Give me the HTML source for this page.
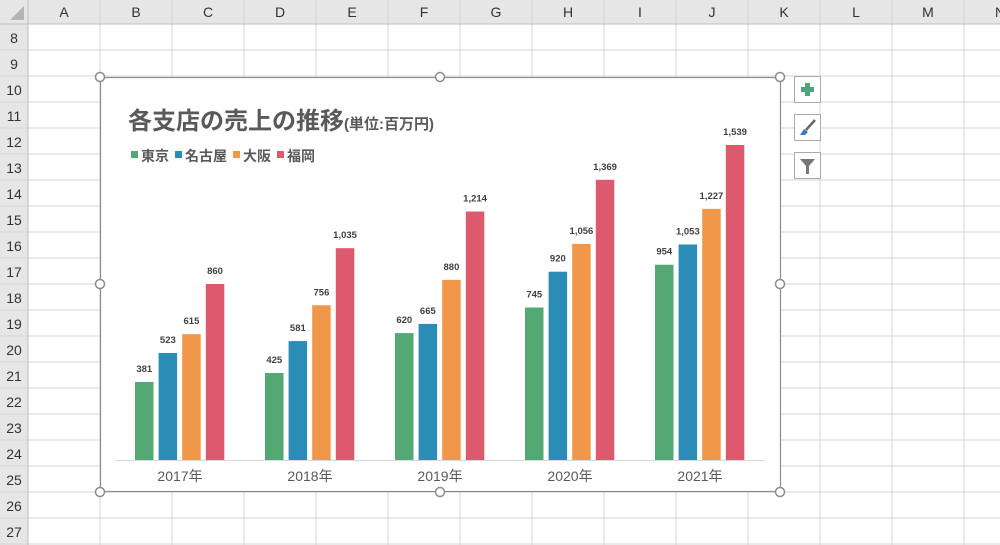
<!DOCTYPE html>
<html><head><meta charset="utf-8">
<style>
body{margin:0;width:1000px;height:545px;overflow:hidden;background:#fff;font-family:"Liberation Sans","Noto Sans CJK JP",sans-serif;}
svg{display:block}
</style></head><body>
<svg id="s" width="1000" height="545" xmlns="http://www.w3.org/2000/svg">
<g id="grid"></g>
<g id="chart"></g>
</svg>
<script>
const categories=["2017年","2018年","2019年","2020年","2021年"];
const seriesNames=["東京","名古屋","大阪","福岡"];
const tokyo=[381,425,620,745,954];
const nagoya=[523,581,665,920,1053];
const osaka=[615,756,880,1056,1227];
const fukuoka=[860,1035,1214,1369,1539];
const colors=["#53a873","#2b8db6","#f0974a","#dd5a6e"];
const series=[tokyo,nagoya,osaka,fukuoka];
const NS="http://www.w3.org/2000/svg";
function mk(tag,attrs,parent){const e=document.createElementNS(NS,tag);for(const k in attrs)e.setAttribute(k,attrs[k]);parent.appendChild(e);return e;}
const grid=document.getElementById('grid');
// headers
let r=mk('rect',{x:0,y:0,width:1000,height:24,fill:'#e6e6e6'},grid);


r=mk('rect',{x:0,y:0,width:28,height:545,fill:'#e6e6e6'},grid);


mk('polygon',{points:'24,6 24,20 10,20',fill:'#b4b4b4'},grid);
const cols="ABCDEFGHIJKLMN";
for(let i=0;i<14;i++){
 const x0=28+i*72;
 mk('line',{x1:x0+72,y1:0,x2:x0+72,y2:545,stroke:'#d4d4d4','stroke-width':1},grid);
 const t=mk('text',{x:x0+36,y:17,'text-anchor':'middle','font-size':14,fill:'#333'},grid);
 t.textContent=cols[i];
 
 
}
for(let i=0;i<20;i++){
 const y0=24+i*26;
 mk('line',{x1:0,y1:y0+26,x2:1000,y2:y0+26,stroke:'#d4d4d4','stroke-width':1},grid);
 const t=mk('text',{x:14,y:y0+19,'text-anchor':'middle','font-size':14,fill:'#333'},grid);
 t.textContent=8+i;
 
 
}
mk('line',{x1:0,y1:24,x2:1000,y2:24,stroke:'#bdbdbd'},grid);
mk('line',{x1:28,y1:0,x2:28,y2:545,stroke:'#bdbdbd'},grid);

const ch=document.getElementById('chart');
r=mk('rect',{x:100.5,y:77.5,width:680,height:414,fill:'#fff',stroke:'#8c8c8c','stroke-width':1.2},ch);


let t=mk('text',{x:128,y:129,'font-size':24,'font-weight':'bold',fill:'#595959'},ch);
t.innerHTML='各支店の売上の推移<tspan font-size="15">(単位:百万円)</tspan>';


// legend
let lx=131;
for(let i=0;i<4;i++){
 const g=mk('g',{},ch);
 
 
 mk('rect',{x:lx,y:151,width:7,height:7,fill:colors[i]},g);
 const tt=mk('text',{x:lx+10,y:161,'font-size':14,'font-weight':'bold',fill:'#595959'},g);
 tt.textContent=seriesNames[i];
 lx+=10+seriesNames[i].length*14+6;
}
// axes
const base=460,pxPer=315/1539;
const y=v=>base-v*pxPer;
const x0=115,catW=130,barW=18.5,step=23.6;
const xBar=(c,s)=>x0+c*catW+20+s*step;
const ax=mk('line',{x1:115,y1:base+0.5,x2:765,y2:base+0.5,stroke:'#d9d9d9','stroke-width':1},ch);


for(let c=0;c<categories.length;c++){
 const lt=mk('text',{x:x0+c*catW+catW/2,y:481,'text-anchor':'middle','font-size':14,fill:'#595959'},ch);
 lt.textContent=categories[c];
 
 
 for(let s=0;s<4;s++){
  const v=series[s][c];
  const b=mk('rect',{x:xBar(c,s),y:y(v),width:barW,height:base-y(v),fill:colors[s]},ch);
  
  
  const vl=mk('text',{x:xBar(c,s)+barW/2,y:y(v)-10,'text-anchor':'middle','font-size':9.5,'font-weight':'bold',fill:'#404040'},ch);
  vl.textContent=v.toLocaleString('en-US');
  
  
 }
}
// handles
[[100,77],[440,77],[780,77],[100,284],[780,284],[100,492],[440,492],[780,492]].forEach(p=>{
 const h=mk('circle',{cx:p[0],cy:p[1],r:4.5,fill:'#fff',stroke:'#8c8c8c','stroke-width':1.5},ch);
 
 
});
// side buttons
const btnNames=['chart-elements-button','chart-styles-button','chart-filters-button'];
[77,115,153].forEach((by,i)=>{
 const g=mk('g',{},ch);
 
 
 mk('rect',{x:794.5,y:by-0.5,width:26,height:26,fill:'#fff',stroke:'#aaa'},g);
 if(i==0){mk('rect',{x:801,y:by+10,width:13,height:5,fill:'#4aa77a'},g);mk('rect',{x:805,y:by+6,width:5,height:13,fill:'#4aa77a'},g);}
 if(i==1){mk('line',{x1:815,y1:by+5,x2:806,y2:by+15,stroke:'#666','stroke-width':2.5},g);mk('polygon',{points:`800,${by+20} 804,${by+14} 808,${by+17} 805,${by+20}`,fill:'#3b78c4'},g);}
 if(i==2){mk('polygon',{points:`800,${by+6} 815,${by+6} 809,${by+13} 809,${by+21} 806,${by+21} 806,${by+13}`,fill:'#777'},g);}
});
</script>
</body></html>
